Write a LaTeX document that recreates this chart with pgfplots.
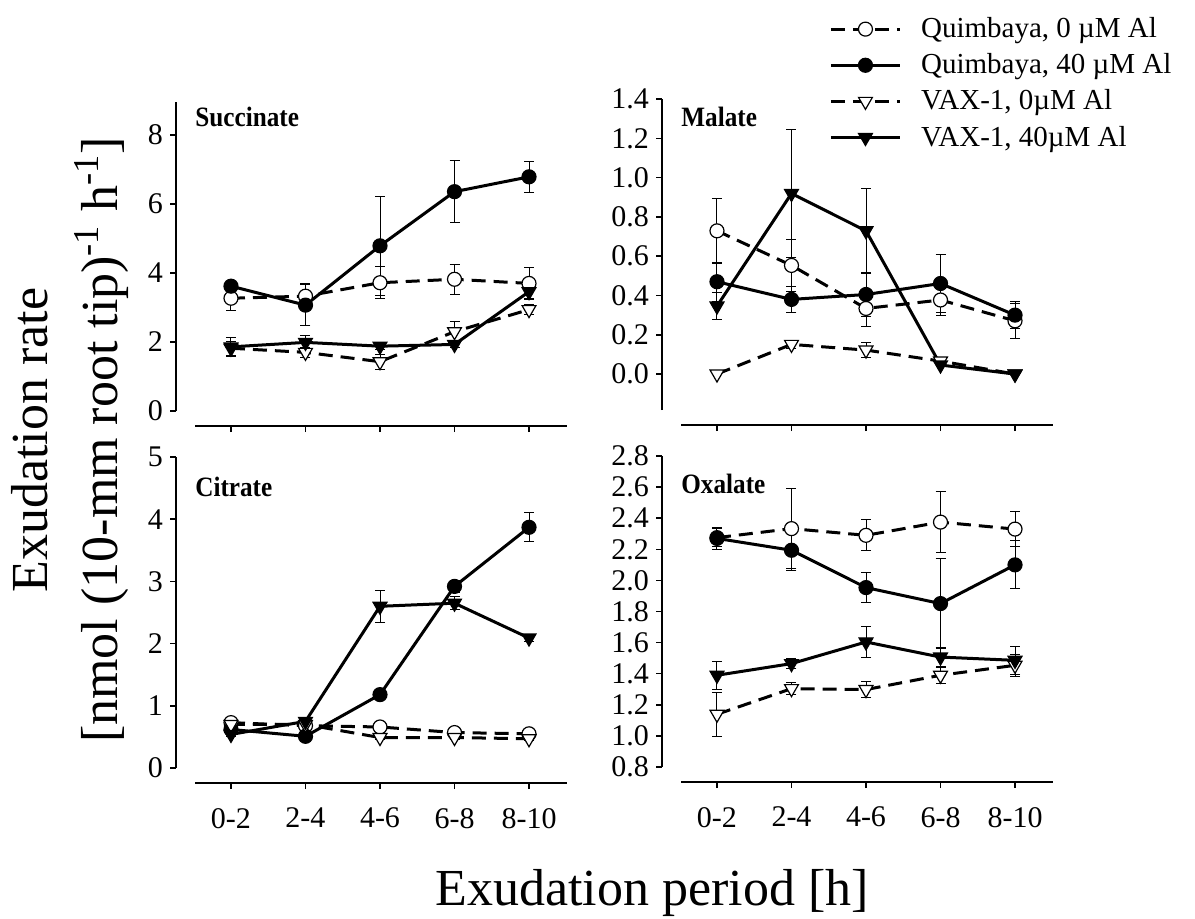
\documentclass[border=0pt]{standalone}
\usepackage{fontspec}
\setmainfont{Liberation Serif}
\usepackage{pgfplots}
\pgfplotsset{compat=1.18}
\pgfplotsset{
  panel/.style={
    scale only axis, width=186pt, height=155.5pt,
    axis lines*=left,
    axis x line shift=7.5pt, axis y line shift=9.5pt,
    xmin=-0.483, xmax=4.51,
    xtick={0,1,2,3,4},
    tick align=outside, major tick length=3pt,
    axis line style={line width=0.75pt, black},
    tick style={line width=0.75pt, black},
    tick label style={font=\fontsize{15}{18}\selectfont},
    xticklabel style={yshift=-6pt},
    /pgf/number format/assume math mode=true,
    clip=false,
  },
  q0/.style={black, line width=1.5pt, dash pattern=on 7pt off 4pt, mark=*, mark size=3.5pt, mark options={solid, fill=white, line width=0.6pt}},
  q40/.style={black, line width=1.5pt, solid, mark=*, mark size=3.5pt, mark options={solid, fill=black, line width=0.6pt}},
  v0/.style={black, line width=1.5pt, dash pattern=on 7pt off 4pt, mark=triangle*, mark size=4pt, mark options={solid, fill=white, rotate=180, line width=0.6pt}},
  v40/.style={black, line width=1.5pt, solid, mark=triangle*, mark size=4pt, mark options={solid, fill=black, rotate=180, line width=0.6pt}},
  eb/.style={error bars/y dir=both, error bars/y explicit,
    error bars/error bar style={line width=0.5pt, solid, black},
    error bars/error mark options={line width=0.5pt, mark size=2.5pt, solid, black, rotate=90}},
}
\newcommand{\ttl}[2]{\node[anchor=base west, inner sep=0pt, xscale=0.9, font=\fontsize{14}{16}\selectfont\bfseries] at ([yshift=-#2]rel axis cs:0,1) {#1};}
\begin{document}
\begin{tikzpicture}
\useasboundingbox (0pt,0pt) rectangle (597.5pt,-459pt);
% Succinate
\begin{axis}[panel, at={(97.5pt,-205.5pt)}, anchor=south west, height=154.5pt,
  ymin=0, ymax=8.96, ytick={0,2,4,6,8}, xticklabels={,,,,}]
\addplot[q0, eb] coordinates {(0,3.27) +- (0,0.36) (1,3.33) +- (0,0.37) (2,3.72) +- (0,0.47) (3,3.82) +- (0,0.44) (4,3.70) +- (0,0.46)};
\addplot[q40, eb] coordinates {(0,3.62) +- (0,0.10) (1,3.07) +- (0,0.60) (2,4.79) +- (0,1.43) (3,6.36) +- (0,0.90) (4,6.79) +- (0,0.45)};
\addplot[v0, eb] coordinates {(0,1.82) +- (0,0.20) (1,1.70) +- (0,0.15) (2,1.43) +- (0,0.22) (3,2.30) +- (0,0.30) (4,2.94) +- (0,0.15)};
\addplot[v40, eb] coordinates {(0,1.86) +- (0,0.27) (1,1.99) +- (0,0.20) (2,1.88) +- (0,0.10) (3,1.93) +- (0,0.10) (4,3.46) +- (0,0.20)};
\ttl{Succinate}{12.5pt}
\end{axis}
% Malate
\begin{axis}[panel, at={(340.5pt,-205pt)}, anchor=south west,
  ymin=-0.183, ymax=1.4, ytick={0,0.2,...,1.4}, xticklabels={,,,,},
  yticklabel style={/pgf/number format/.cd, fixed, fixed zerofill, precision=1},
  legend style={draw=none, fill=none, at={(axis description cs:0.398,1.276)}, anchor=north west,
    font=\fontsize{14.5}{17}\selectfont, row sep=2.5pt, inner sep=0pt},
  legend cell align=left,
  legend image code/.code={\draw[mark repeat=2, mark phase=2, #1] plot coordinates {(0pt,0pt) (17.25pt,0pt) (34.5pt,0pt)}; \path[draw=none, fill=none] (43pt,0pt) circle (0.1pt);}]
\addplot[q0, eb] coordinates {(0,0.729) +- (0,0.165) (1,0.553) +- (0,0.133) (2,0.334) +- (0,0.09) (3,0.377) +- (0,0.08) (4,0.271) +- (0,0.09)};
\addplot[q40, eb] coordinates {(0,0.470) +- (0,0.10) (1,0.380) +- (0,0.065) (2,0.405) +- (0,0.11) (3,0.461) +- (0,0.15) (4,0.300) +- (0,0.07)};
\addplot[v0, eb] coordinates {(0,0.0) +- (0,0.0) (1,0.151) +- (0,0.02) (2,0.122) +- (0,0.04) (3,0.066) +- (0,0.01) (4,0.0) +- (0,0.0)};
\addplot[v40, eb] coordinates {(0,0.346) +- (0,0.07) (1,0.919) +- (0,0.326) (2,0.729) +- (0,0.215) (3,0.046) +- (0,0.01) (4,0.0) +- (0,0.0)};
\legend{{Quimbaya, 0 µM Al}, {Quimbaya, 40 µM Al}, {VAX-1, 0µM Al}, {VAX-1, 40µM Al}}
\ttl{Malate}{13.5pt}
\end{axis}
% Citrate
\begin{axis}[panel, at={(97.5pt,-384pt)}, anchor=south west,
  ymin=0, ymax=5, ytick={0,1,2,3,4,5}, xticklabels={0-2,2-4,4-6,6-8,8-10}]
\addplot[q0, eb] coordinates {(0,0.73) +- (0,0.03) (1,0.68) +- (0,0.03) (2,0.66) +- (0,0.03) (3,0.57) +- (0,0.03) (4,0.55) +- (0,0.03)};
\addplot[q40, eb] coordinates {(0,0.62) +- (0,0.03) (1,0.51) +- (0,0.03) (2,1.18) +- (0,0.05) (3,2.92) +- (0,0.10) (4,3.87) +- (0,0.235)};
\addplot[v0, eb] coordinates {(0,0.70) +- (0,0.03) (1,0.70) +- (0,0.03) (2,0.49) +- (0,0.03) (3,0.49) +- (0,0.03) (4,0.47) +- (0,0.03)};
\addplot[v40, eb] coordinates {(0,0.54) +- (0,0.03) (1,0.75) +- (0,0.03) (2,2.60) +- (0,0.26) (3,2.65) +- (0,0.10) (4,2.09) +- (0,0.05)};
\ttl{Citrate}{19.5pt}
\end{axis}
% Oxalate
\begin{axis}[panel, at={(340.5pt,-383.5pt)}, anchor=south west,
  ymin=0.8, ymax=2.8, ytick={0.8,1.0,...,2.8}, xticklabels={0-2,2-4,4-6,6-8,8-10},
  yticklabel style={/pgf/number format/.cd, fixed, fixed zerofill, precision=1}]
\addplot[q0, eb] coordinates {(0,2.275) +- (0,0.06) (1,2.333) +- (0,0.257) (2,2.29) +- (0,0.10) (3,2.375) +- (0,0.195) (4,2.33) +- (0,0.11)};
\addplot[q40, eb] coordinates {(0,2.27) +- (0,0.07) (1,2.194) +- (0,0.13) (2,1.954) +- (0,0.095) (3,1.851) +- (0,0.29) (4,2.10) +- (0,0.155)};
\addplot[v0, eb] coordinates {(0,1.139) +- (0,0.14) (1,1.304) +- (0,0.04) (2,1.298) +- (0,0.05) (3,1.39) +- (0,0.05) (4,1.454) +- (0,0.07)};
\addplot[v40, eb] coordinates {(0,1.39) +- (0,0.09) (1,1.465) +- (0,0.03) (2,1.604) +- (0,0.10) (3,1.507) +- (0,0.06) (4,1.486) +- (0,0.09)};
\ttl{Oxalate}{18.5pt}
\end{axis}
\node[rotate=90, anchor=base, font=\fontsize{26}{30}\selectfont] at (23.5pt,-220pt) {Exudation rate};
\node[rotate=90, anchor=base, font=\fontsize{26}{30}\selectfont] at (58.5pt,-220pt) {[nmol (10-mm root tip)\textsuperscript{-1} h\textsuperscript{-1}]};
\node[anchor=base, font=\fontsize{26}{30}\selectfont] at (326pt,-452.85pt) {Exudation period [h]};
\end{tikzpicture}
\end{document}
